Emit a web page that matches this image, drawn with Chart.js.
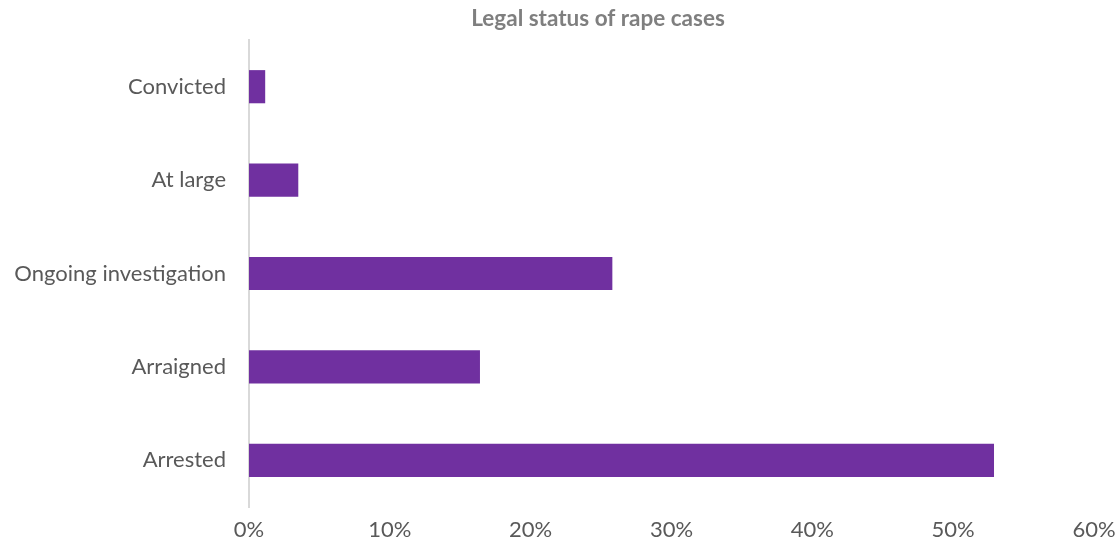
<!DOCTYPE html>
<html>
<head>
<meta charset="utf-8">
<script src="https://cdn.jsdelivr.net/npm/chart.js@4/dist/chart.umd.min.js"></script>
<style>
  html, body { margin: 0; padding: 0; background: #fff; }
  #wrap { width: 1116px; height: 550px; position: relative; }
</style>
</head>
<body>
<div id="wrap"><canvas id="chart"></canvas></div>
<script>
const categories = ["Convicted", "At large", "Ongoing investigation", "Arraigned", "Arrested"];
const shares = [1.15, 3.5, 25.8, 16.4, 52.9];
const tickValues = [0, 10, 20, 30, 40, 50, 60];
const chartTitle = "Legal status of rape cases";

const fontFamily = "Lato, 'Open Sans', sans-serif";

// title is offset from centre in the original, so draw it ourselves
const titlePlugin = {
    id: "shiftedTitle",
    afterDraw(chart) {
        const ctx = chart.ctx;
        ctx.save();
        ctx.font = "bold 22.5px " + fontFamily;
        ctx.fillStyle = "#7f7f7f";
        ctx.textAlign = "center";
        ctx.textBaseline = "middle";
        ctx.fillText(chartTitle, 598, 19);
        ctx.restore();
    }
};

let ctx = document.getElementById("chart").getContext("2d");

new Chart(ctx, {
    type: "bar",
    data: {
        labels: categories,
        datasets: [{
            data: shares,
            backgroundColor: "#7030a0",
            barPercentage: 0.355,
            categoryPercentage: 1
        }]
    },
    options: {
        indexAxis: "y",
        responsive: true,
        maintainAspectRatio: false,
        animation: false,
        layout: {
            padding: { top: 40, right: 0, bottom: 0, left: 13 }
        },
        plugins: {
            legend: { display: false },
            title: { display: false },
            tooltip: { enabled: false }
        },
        scales: {
            x: {
                min: 0,
                max: 60,
                afterBuildTicks(axis) {
                    axis.ticks = tickValues.map(v => ({ value: v }));
                },
                afterFit(axis) {
                    axis.height = 43;
                    axis.paddingRight = 22;
                },
                grid: { display: false, drawTicks: false },
                border: { display: false },
                ticks: {
                    color: "#595959",
                    font: { family: fontFamily, size: 22 },
                    padding: 10,
                    maxRotation: 0,
                    callback: v => v + "%"
                }
            },
            y: {
                afterFit(axis) { axis.width = 236; },
                grid: { display: false, drawTicks: false },
                border: { display: true, color: "#d9d9d9", width: 2 },
                ticks: {
                    color: "#595959",
                    font: { family: fontFamily, size: 22 },
                    padding: 23
                }
            }
        }
    },
    plugins: [titlePlugin]
});
</script>
</body>
</html>
